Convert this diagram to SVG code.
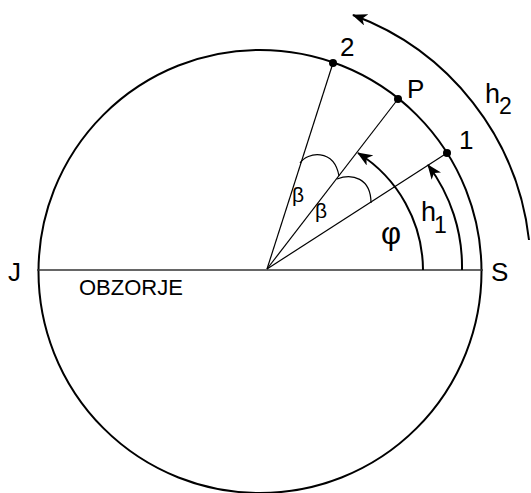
<svg xmlns="http://www.w3.org/2000/svg" width="531" height="493" viewBox="0 0 531 493">
<style>
.t{font-family:"Liberation Sans",Arial,sans-serif;fill:#000}
.thin{stroke:#000;stroke-width:1.2;fill:none}
.thick{stroke:#000;stroke-width:2;fill:none}
</style>
<defs>
<marker id="ah" viewBox="0 0 15 12" refX="14" refY="6" markerWidth="15" markerHeight="12" markerUnits="userSpaceOnUse" orient="auto">
<path d="M0,0 L15,6 L0,12 L4,6 z" fill="#000"/>
</marker>
</defs>
<rect width="531" height="493" fill="#fff"/>
<g id="circle"><circle cx="260" cy="271.5" r="221.5" class="thick"/></g>
<g id="connectors">
<line x1="37" y1="270" x2="483" y2="270" stroke="#333" stroke-width="1.5"/>
<line x1="267" y1="269" x2="333" y2="63" class="thin"/>
<line x1="267" y1="269" x2="398" y2="99" class="thin"/>
<line x1="267" y1="269" x2="447" y2="153" class="thin"/>
<path d="M300,163 C307,152 334,148 339,176" class="thin"/>
<path d="M337,179 C352,173 371,178 371,203" class="thin"/>
<path d="M423,270 A139,139 0 0 0 358,153" class="thick" marker-end="url(#ah)"/>
<path d="M462,270 A169,169 0 0 0 428,165" class="thick" marker-end="url(#ah)"/>
<path d="M529,240 A272,272 0 0 0 353,15" class="thick" marker-end="url(#ah)"/>
</g>
<g id="point-2"><circle cx="333" cy="63" r="4"/><text class="t" x="340" y="56" font-size="26">2</text></g>
<g id="point-P"><circle cx="398" cy="99" r="4"/><text class="t" x="407" y="98" font-size="26">P</text></g>
<g id="point-1"><circle cx="447" cy="153" r="4"/><text class="t" x="459" y="149" font-size="26">1</text></g>
<g id="label-J"><text class="t" x="8" y="281" font-size="26">J</text></g>
<g id="label-S"><text class="t" x="491" y="281" font-size="26">S</text></g>
<g id="label-obzorje"><text class="t" x="79" y="295" font-size="22">OBZORJE</text></g>
<g id="label-beta1"><text class="t" x="292" y="202" font-size="21">β</text></g>
<g id="label-beta2"><text class="t" x="315" y="218" font-size="21">β</text></g>
<g id="label-phi"><text class="t" x="381" y="244" font-size="31">φ</text></g>
<g id="label-h1"><text class="t" x="421" y="221" font-size="27">h</text><text class="t" x="434" y="233" font-size="23">1</text></g>
<g id="label-h2"><text class="t" x="485" y="103" font-size="27">h</text><text class="t" x="499" y="114" font-size="23">2</text></g>
</svg>
